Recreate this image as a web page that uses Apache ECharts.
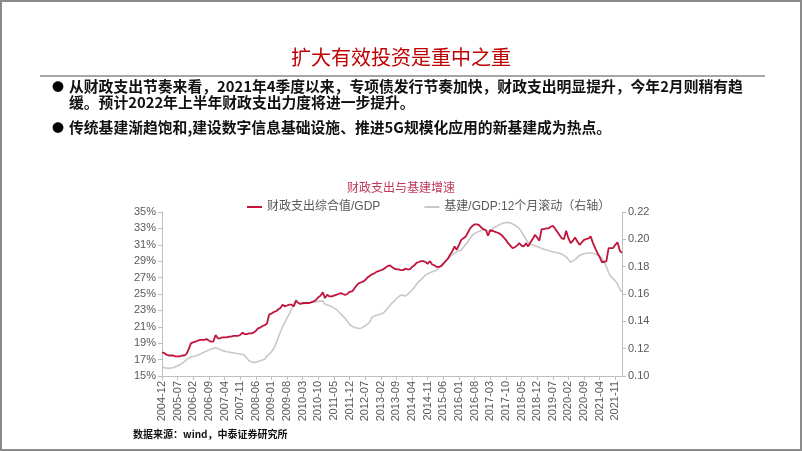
<!DOCTYPE html>
<html><head><meta charset="utf-8">
<script src="https://cdn.jsdelivr.net/npm/echarts@6/dist/echarts.min.js"></script>
<style>html,body{margin:0;padding:0;background:#fff}#c{width:802px;height:451px}</style>
</head><body><div id="c"></div>
<script>
// Monthly categories from 2004-12 to 2022-02
const firstMonth = [2004, 12];
const monthCount = 207;
const categories = [];
for (let i = 0; i < monthCount; i++) {
  const m0 = firstMonth[1] - 1 + i;
  const y = firstMonth[0] + Math.floor(m0 / 12);
  const m = (m0 % 12) + 1;
  categories.push(y + '-' + (m < 10 ? '0' + m : m));
}

const seriesNames = ['财政支出综合值/GDP', '基建/GDP:12个月滚动（右轴）'];

// 财政支出综合值/GDP (%), left axis
const fiscalRatio = [
17.9,17.8,17.6,17.5,17.5,17.5,17.4,17.4,17.4,17.5,17.5,17.7,18.3,19.0,19.1,19.2,19.3,19.4,19.4,19.4,
19.5,19.3,19.2,19.2,20.0,19.6,19.6,19.7,19.7,19.7,19.8,19.8,19.9,19.9,19.9,20.0,20.3,20.1,20.1,20.2,
20.2,20.3,20.5,20.8,20.9,21.1,21.2,21.4,22.5,22.6,22.8,22.9,23.1,23.3,23.7,23.5,23.6,23.7,23.7,23.5,
24.2,23.9,23.8,23.9,23.9,23.9,23.9,24.0,24.1,24.3,24.6,24.8,25.2,24.5,24.9,24.7,24.7,24.8,24.9,25.0,
25.1,25.0,24.9,25.0,25.3,25.3,25.6,26.0,26.3,26.4,26.5,26.7,27.0,27.2,27.4,27.5,27.7,27.8,27.9,28.0,
28.2,28.4,28.5,28.3,28.1,28.0,28.0,27.9,27.9,28.1,28.0,28.0,28.3,28.5,28.8,28.9,29.0,29.0,28.9,28.7,
29.0,28.6,28.5,28.3,28.3,28.4,28.7,29.0,29.3,29.8,30.2,30.8,30.4,31.0,31.6,31.8,32.0,32.5,33.0,33.3,
33.5,33.5,33.4,33.1,32.9,32.8,32.1,32.8,32.7,32.6,32.5,32.4,32.2,31.9,31.6,31.2,30.9,30.6,30.7,30.9,
31.2,30.9,30.8,31.2,30.8,31.3,31.7,32.2,31.9,31.5,32.9,32.9,33.0,33.0,33.2,33.3,33.0,32.6,32.2,31.8,
31.7,32.7,31.8,31.2,31.5,31.9,31.4,31.0,31.3,31.6,31.7,31.8,32.0,31.2,30.6,30.0,29.5,28.9,28.9,29.0,
30.6,30.6,30.6,31.0,31.3,30.3,30.0
];

// 基建/GDP:12个月滚动, right axis
const infraRatio = [
0.1068,0.1060,0.1058,0.1056,0.1058,0.1060,0.1068,0.1075,0.1083,0.1093,0.1105,0.1120,0.1132,0.1141,0.1143,0.1146,0.1152,0.1160,0.1168,0.1176,
0.1183,0.1190,0.1198,0.1203,0.1207,0.1202,0.1193,0.1187,0.1182,0.1178,0.1175,0.1171,0.1170,0.1167,0.1163,0.1161,0.1158,0.1152,0.1130,0.1112,
0.1105,0.1100,0.1100,0.1106,0.1112,0.1117,0.1122,0.1145,0.1160,0.1178,0.1200,0.1235,0.1280,0.1322,0.1360,0.1390,0.1425,0.1455,0.1490,0.1525,
0.1556,0.1535,0.1527,0.1528,0.1530,0.1532,0.1535,0.1538,0.1541,0.1544,0.1546,0.1548,0.1549,0.1525,0.1520,0.1515,0.1508,0.1498,0.1487,0.1472,
0.1455,0.1438,0.1422,0.1402,0.1378,0.1365,0.1357,0.1352,0.1349,0.1348,0.1358,0.1368,0.1380,0.1393,0.1430,0.1438,0.1445,0.1448,0.1453,0.1460,
0.1475,0.1495,0.1515,0.1535,0.1548,0.1565,0.1580,0.1593,0.1590,0.1585,0.1598,0.1612,0.1629,0.1650,0.1672,0.1690,0.1705,0.1722,0.1739,0.1748,
0.1756,0.1763,0.1768,0.1776,0.1790,0.1808,0.1824,0.1840,0.1857,0.1873,0.1886,0.1898,0.1910,0.1916,0.1922,0.1942,0.1962,0.1983,0.2008,0.2030,
0.2042,0.2052,0.2058,0.2064,0.2070,0.2068,0.2058,0.2065,0.2075,0.2088,0.2097,0.2106,0.2115,0.2120,0.2122,0.2124,0.2120,0.2112,0.2104,0.2092,
0.2080,0.2055,0.2028,0.2000,0.1975,0.1965,0.1958,0.1954,0.1948,0.1941,0.1934,0.1928,0.1923,0.1918,0.1913,0.1909,0.1905,0.1902,0.1898,0.1893,
0.1882,0.1872,0.1852,0.1832,0.1842,0.1852,0.1868,0.1882,0.1889,0.1894,0.1898,0.1900,0.1900,0.1898,0.1893,0.1886,0.1880,0.1862,0.1838,0.1800,
0.1755,0.1730,0.1712,0.1698,0.1672,0.1635,0.1615
];

const leftAxisRange = [15, 35, 2];
const rightAxisRange = [0.10, 0.22, 0.02];

const pageTitle = '扩大有效投资是重中之重';
const bulletLines = [
  '从财政支出节奏来看，2021年4季度以来，专项债发行节奏加快，财政支出明显提升，今年2月则稍有趋',
  '缓。预计2022年上半年财政支出力度将进一步提升。',
  '传统基建渐趋饱和,建设数字信息基础设施、推进5G规模化应用的新基建成为热点。'
];
const chartTitle = '财政支出与基建增速';
const sourceText = '数据来源：wind，中泰证券研究所';

const cjk = '"Noto Sans CJK SC", sans-serif';
const latin = '"Liberation Sans", "Noto Sans CJK SC", sans-serif';

const chart = echarts.init(document.getElementById('c'), null, {renderer: 'canvas'});
chart.setOption({
  animation: false,
  backgroundColor: '#fff',
  title: {
    text: chartTitle, left: 'center', top: 176,
    textStyle: {fontFamily: cjk, fontSize: 12, fontWeight: 'normal', color: '#c0395a'}
  },
  legend: {
    data: seriesNames, left: 247, top: 201, padding: 0, itemWidth: 15, itemHeight: 2, itemGap: 44,
    icon: 'rect',
    textStyle: {fontFamily: latin, fontSize: 12, color: '#595959'}
  },
  grid: {left: 162, right: 180, top: 212, bottom: 75, containLabel: false},
  xAxis: {
    type: 'category', data: categories, boundaryGap: false,
    axisLine: {lineStyle: {color: '#bfbfbf', width: 1}},
    axisTick: {show: true, interval: 6, length: 4, lineStyle: {color: '#bfbfbf'}},
    axisLabel: {interval: 6, rotate: 90, fontFamily: latin, fontSize: 11, color: '#595959', margin: 5}
  },
  yAxis: [
    {
      type: 'value', min: leftAxisRange[0], max: leftAxisRange[1], interval: leftAxisRange[2],
      axisLine: {show: true, lineStyle: {color: '#bfbfbf'}},
      axisTick: {show: true, length: 4, lineStyle: {color: '#bfbfbf'}},
      splitLine: {show: false},
      axisLabel: {formatter: '{value}%', fontFamily: latin, fontSize: 11, color: '#595959', margin: 6}
    },
    {
      type: 'value', position: 'right', min: rightAxisRange[0], max: rightAxisRange[1], interval: rightAxisRange[2],
      axisLine: {show: true, lineStyle: {color: '#bfbfbf'}},
      axisTick: {show: true, length: 4, lineStyle: {color: '#bfbfbf'}},
      splitLine: {show: false},
      axisLabel: {formatter: v => v.toFixed(2), fontFamily: latin, fontSize: 11, color: '#595959', margin: 6}
    }
  ],
  series: [
    {
      name: seriesNames[1], type: 'line', yAxisIndex: 1, data: infraRatio, symbol: 'none',
      lineStyle: {color: '#c8c8c8', width: 1.6}, itemStyle: {color: '#c8c8c8'}, z: 2
    },
    {
      name: seriesNames[0], type: 'line', yAxisIndex: 0, data: fiscalRatio, symbol: 'none',
      lineStyle: {color: '#c0143c', width: 1.8}, itemStyle: {color: '#c0143c'}, z: 3
    }
  ],
  graphic: [
    {type: 'rect', shape: {x: 1, y: 1, width: 800, height: 449}, style: {fill: 'none', stroke: '#8a8a8a', lineWidth: 2}, silent: true},
    {type: 'text', left: 'center', top: 47, style: {text: pageTitle, font: 'normal 20px ' + cjk, fill: '#c00000'}},
    {type: 'rect', shape: {x: 40, y: 75, width: 725, height: 2}, style: {fill: '#a6a6a6'}},
    {type: 'text', x: 52, y: 81, style: {text: '●', font: 'bold 12px ' + cjk, fill: '#000'}},
    {type: 'text', x: 69, y: 79, style: {text: bulletLines[0], font: 'bold 14.8px ' + cjk, fill: '#111'}},
    {type: 'text', x: 69, y: 95, style: {text: bulletLines[1], font: 'bold 14.8px ' + cjk, fill: '#111'}},
    {type: 'text', x: 52, y: 122, style: {text: '●', font: 'bold 12px ' + cjk, fill: '#000'}},
    {type: 'text', x: 69, y: 120, style: {text: bulletLines[2], font: 'bold 14.8px ' + cjk, fill: '#111'}},
    {type: 'text', x: 133, y: 429, style: {text: sourceText, font: 'bold 10px ' + cjk, fill: '#111'}}
  ]
});
</script></body></html>
